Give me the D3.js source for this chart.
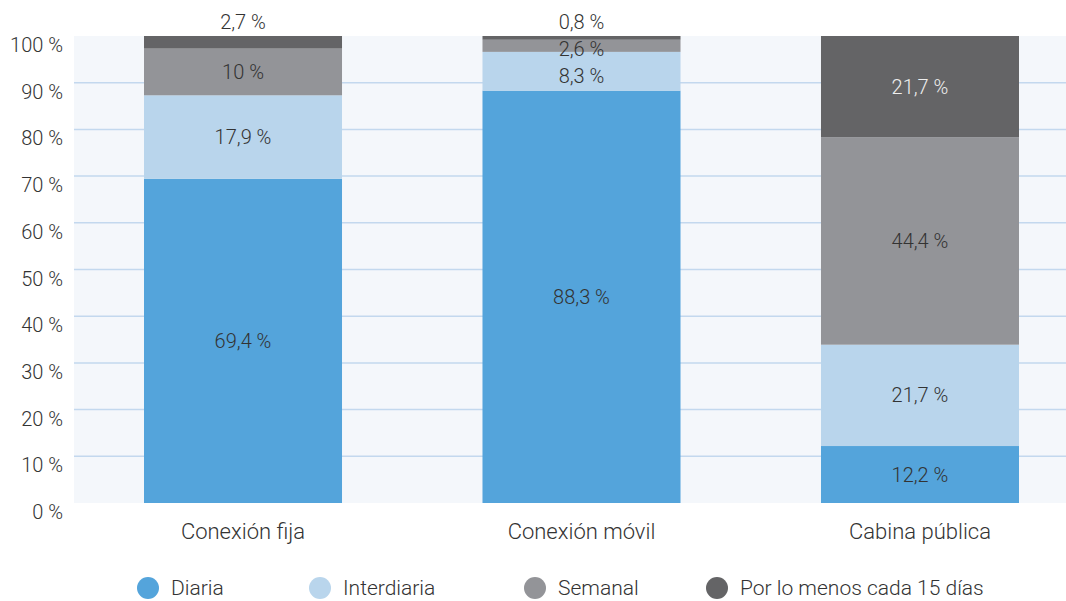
<!DOCTYPE html>
<html><head><meta charset="utf-8">
<script src="https://cdn.jsdelivr.net/npm/d3@7"></script>
<style>body{margin:0;background:#fff}svg{display:block}text{font-family:Roboto,"Noto Sans",sans-serif;font-weight:300}</style>
</head><body><svg id="c" width="1066" height="601"></svg>
<script>
const categories = ["Conexión fija", "Conexión móvil", "Cabina pública"];
const seriesNames = ["Diaria", "Interdiaria", "Semanal", "Por lo menos cada 15 días"];
const diaria = [69.4, 88.3, 12.2];
const interdiaria = [17.9, 8.3, 21.7];
const semanal = [10, 2.6, 44.4];
const quincenal = [2.7, 0.8, 21.7];
const yTicks = [0, 10, 20, 30, 40, 50, 60, 70, 80, 90, 100];
const colors = ["#54a4db", "#b9d5ec", "#939498", "#646466"];
const labelColors = ["#333", "#333", "#333", "#eee"];
const seriesValues = [diaria, interdiaria, semanal, quincenal];

const svg = d3.select("#c");
const plot = {left: 74, right: 1066, top: 36, bottom: 503};
const y = d3.scaleLinear().domain([0, 100]).range([plot.bottom, plot.top]);
const x = d3.scaleBand().domain(categories).range([144, 1019]).paddingInner(0.415).paddingOuter(0);
const fmt = v => String(v).replace(".", ",") + " %";

svg.append("rect").attr("x", plot.left).attr("y", plot.top)
  .attr("width", plot.right - plot.left).attr("height", plot.bottom - plot.top).attr("fill", "#f4f7fb");

svg.append("g").selectAll("line").data(yTicks.filter(d => d > 0 && d < 100)).join("line")
  .attr("x1", plot.left).attr("x2", plot.right)
  .attr("y1", d => y(d)).attr("y2", d => y(d))
  .attr("stroke", "#c3d8ee").attr("stroke-width", 1.5);

svg.append("g").selectAll("text").data(yTicks).join("text")
  .attr("x", 63).attr("y", d => y(d) + 9).attr("dy", "0.35em").attr("text-anchor", "end")
  .attr("font-size", 20).attr("fill", "#333").text(d => d + " %");

const rows = categories.map((c, i) => ({cat: c, s0: diaria[i], s1: interdiaria[i], s2: semanal[i], s3: quincenal[i]}));
const stack = d3.stack().keys(["s0", "s1", "s2", "s3"])(rows);

svg.append("g").selectAll("g").data(stack).join("g").attr("fill", (d, i) => colors[i])
  .selectAll("rect").data(d => d).join("rect")
  .attr("x", d => x(d.data.cat)).attr("width", x.bandwidth())
  .attr("y", d => y(d[1])).attr("height", d => y(d[0]) - y(d[1]));

// labels
const labels = [];
categories.forEach((c, ci) => {
  let prev = null;
  for (let si = 3; si >= 0; si--) {
    const seg = stack[si][ci];
    const v = seriesValues[si][ci];
    let ly, col;
    if (si === 3 && v < 5) { ly = y(100) - 14; col = "#333"; }
    else {
      ly = (y(seg[0]) + y(seg[1])) / 2; col = labelColors[si];
      if (prev !== null && ly < prev + 27) ly = prev + 27;
    }
    prev = ly;
    labels.push({x: x(c) + x.bandwidth() / 2, y: ly, t: fmt(v), col});
  }
});
svg.append("g").selectAll("text").data(labels).join("text")
  .attr("x", d => d.x).attr("y", d => d.y).attr("dy", "0.35em").attr("text-anchor", "middle")
  .attr("font-size", 20).attr("fill", d => d.col).text(d => d.t);

svg.append("g").selectAll("text").data(categories).join("text")
  .attr("x", d => x(d) + x.bandwidth() / 2).attr("y", 531).attr("dy", "0.35em")
  .attr("text-anchor", "middle").attr("font-size", 22).attr("fill", "#333").text(d => d);

const legX = [148, 320, 535, 717];
const leg = svg.append("g").selectAll("g").data(seriesNames).join("g")
  .attr("transform", (d, i) => `translate(${legX[i]},588)`);
leg.append("circle").attr("r", 11).attr("fill", (d, i) => colors[i]);
leg.append("text").attr("x", 23).attr("dy", "0.35em").attr("font-size", 21).attr("fill", "#333").text(d => d);
</script></body></html>
